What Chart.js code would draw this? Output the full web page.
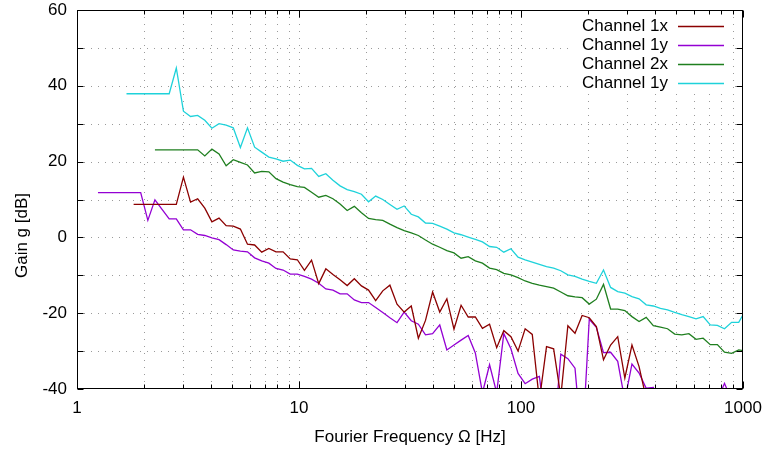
<!DOCTYPE html>
<html>
<head>
<meta charset="utf-8">
<script src="https://cdn.jsdelivr.net/npm/chart.js@4/dist/chart.umd.min.js"></script>
<style>
  html, body { margin: 0; padding: 0; background: #fff; }
  #wrap { width: 765px; height: 450px; }
</style>
</head>
<body>
<div id="wrap"><canvas id="gain" width="765" height="450"></canvas></div>
<script>
// Fourier frequencies of the spectrum bins [Hz]
const freq = [
  1.243, 1.339, 1.441, 1.552, 1.671, 1.799, 1.936, 2.085, 2.244, 2.416, 2.602,
  2.801, 3.016, 3.247, 3.496, 3.764, 4.052, 4.363, 4.697, 5.057, 5.445,
  5.861, 6.311, 6.794, 7.315, 7.876, 8.479, 9.129, 9.829, 10.58, 11.39,
  12.27, 13.21, 14.22, 15.31, 16.48, 17.75, 19.11, 20.57, 22.15, 23.84,
  25.67, 27.64, 29.76, 32.04, 34.49, 37.14, 39.98, 43.05, 46.35, 49.90,
  53.72, 57.84, 62.27, 67.04, 72.18, 77.71, 83.66, 90.08, 96.98, 104.4,
  112.4, 121.0, 130.3, 140.3, 151.1, 162.6, 175.1, 188.5, 203.0, 218.5,
  235.3, 253.3, 272.7, 293.6, 316.1, 340.3, 366.4, 394.5, 424.7, 457.2,
  492.3, 530.0, 570.6, 614.3, 661.4, 712.1, 766.6, 825.4, 888.6, 956.7,
  1030
];

// gain per channel [dB], one value per frequency bin (null = no data)
const gain1x = [
  null, null, null, null, null,
  8.7, 8.7, 8.7, 8.7, 8.7, 8.7, 8.7,
  15.9, 9.3, 10.2, 7.7, 4.1, 5.1, 3.1, 3.0, 2.2, -1.8,
  -2.0, -3.9, -2.9, -3.8, -3.8, -5.7, -5.9, -8.7, -6.0, -12.2,
  -8.3, -9.8, -11.2, -12.7, -10.9, -12.8, -13.9, -16.7, -14.1, -12.6,
  -17.6, -19.7, -18.1, -26.6, -21.9, -14.4, -19.7, -16.2, -24.2, -17.9,
  -21.0, -21.0, -24.0, -22.9, -29.1, -24.6, -26.2, -30.0, -24.1, -25.6,
  -43, -28.8, -29.4, -42, -23.3, -25.3, -20.6, -21.2, -23.5, -32.3,
  -28.4, -26.2, -37.1, -28.4, -34.1, -42.5,
  null, null, null, null, null, null, null, null, null, null, null, null, null, null
];

const gain1y = [
  11.8, 11.8, 11.8, 11.8, 11.8, 11.8, 11.8,
  4.5, 9.9, 7.4, 4.9, 4.9,
  2.0, 2.0, 0.8, 0.5, -0.1, -0.6, -1.9, -3.3, -3.6, -3.8,
  -5.4, -6.2, -6.8, -8.2, -8.6, -9.7, -9.7, -10.3, -11.0, -12.1,
  -13.6, -13.9, -14.9, -14.9, -16.5, -17.2, -17.2, -18.5, -19.8, -21.2,
  -22.5, -19.7, -22.0, -22.9, -25.7, -25.4, -23.1, -29.7, -28.4, -27.1,
  -25.9, -30.5, -41, -33.6, -41, -25.4, -29.4, -35.9, -38.6, -37.4,
  -36.7, -51, -54, -30.8, -32.0, -34.5, -56, -21.6, -23.7, -30.4,
  -30.3, -32.7, -43, -33.4, -35.8, -39.8, -39.6, -45,
  null, null, null, null, null, null, null,
  -43, -38.5, -43,
  null, null
];

const gain2x = [
  null, null, null, null, null, null, null, null,
  23.1, 23.1, 23.1, 23.1, 23.1, 23.1, 23.1,
  21.5, 23.3, 22.0, 18.9, 20.5, 19.8, 19.1,
  17.0, 17.4, 17.3, 15.5, 14.6, 13.9, 13.4, 13.2, 11.9, 10.6,
  11.1, 10.2, 8.8, 7.1, 8.2, 6.5, 5.0, 4.7, 4.5, 3.5,
  2.6, 1.8, 1.2, 0.5, -0.7, -1.8, -2.6, -3.5, -4.1, -5.5,
  -5.1, -6.2, -6.8, -8.1, -8.5, -9.5, -9.9, -10.6, -11.5, -12.1,
  -12.6, -13.0, -13.4, -14.4, -15.4, -15.7, -15.9, -17.6, -16.3, -12.4,
  -18.9, -18.9, -19.3, -20.9, -22.2, -21.1, -23.3, -23.7, -24.1, -25.5,
  -25.7, -25.4, -26.9, -26.6, -28.3, -28.3, -30.3, -30.6, -29.7, -30.0
];

const gain1yB = [
  null, null, null, null,
  37.9, 37.9, 37.9, 37.9, 37.9, 37.9, 37.9,
  44.7, 33.3, 31.9, 32.2, 30.9, 28.8, 30.0, 29.6, 28.9, 23.7, 28.9,
  23.8, 22.5, 21.2, 20.7, 20.1, 20.4, 19.0, 18.1, 18.2, 16.1,
  16.8, 15.1, 13.6, 12.6, 12.1, 11.4, 9.4, 10.9, 10.0, 8.7,
  7.4, 8.3, 6.1, 5.4, 3.8, 3.7, 3.0, 2.2, 1.2, 0.7,
  0.1, -0.5, -1.2, -2.4, -2.6, -3.9, -3.0, -5.2, -5.9, -6.5,
  -7.1, -7.7, -8.1, -8.8, -9.9, -10.3, -11.0, -11.6, -12.1, -8.6,
  -13.2, -14.3, -14.7, -15.6, -16.2, -17.8, -18.1, -18.7, -19.1, -19.8,
  -20.4, -20.9, -21.5, -20.9, -23.1, -23.2, -24.1, -22.4, -22.4, -19.1
];

const seriesNames = ['Channel 1x', 'Channel 1y', 'Channel 2x', 'Channel 1y'];
const seriesColors = ['#8b0000', '#9400d3', '#1f7f1f', '#1ed2da'];

// axis ticks: grid every decade step on x, every 10 dB on y
const xTickValues = [1, 2, 3, 4, 5, 6, 7, 8, 9, 10, 20, 30, 40, 50, 60, 70, 80, 90,
  100, 200, 300, 400, 500, 600, 700, 800, 900, 1000];
const xLabelValues = [1, 10, 100, 1000];
const yTickValues = [-40, -30, -20, -10, 0, 10, 20, 30, 40, 50, 60];
const yLabelValues = [-40, -20, 0, 20, 40, 60];

const FONT = '"Liberation Sans", Arial, sans-serif';
const FONT_SIZE = 17;

const toPoints = vals => freq.map((f, i) => ({ x: f, y: vals[i] }));

// gnuplot-like frame: dotted grid, inward ticks, opaque key, axis labels
const gnuFrame = {
  id: 'gnuFrame',
  beforeDatasetsDraw(chart) {
    const { ctx, chartArea: a, scales: { x, y } } = chart;
    ctx.save();
    ctx.strokeStyle = '#9a9a9a';
    ctx.lineWidth = 1;
    ctx.setLineDash([1, 6]);
    x.ticks.forEach(t => {
      const px = Math.round(x.getPixelForValue(t.value)) + 0.5;
      if (px <= a.left + 2 || px >= a.right - 2) return;
      ctx.beginPath();
      ctx.moveTo(px, a.top);
      ctx.lineTo(px, a.bottom);
      ctx.stroke();
    });
    y.ticks.forEach(t => {
      const py = Math.round(y.getPixelForValue(t.value)) + 0.5;
      if (py <= a.top + 2 || py >= a.bottom - 2) return;
      ctx.beginPath();
      ctx.moveTo(a.left, py);
      ctx.lineTo(a.right, py);
      ctx.stroke();
    });
    ctx.setLineDash([]);

    // key background hides the grid behind it
    ctx.font = FONT_SIZE + 'px ' + FONT;
    const textRight = a.right - 75;
    const maxW = Math.max(...seriesNames.map(n => ctx.measureText(n).width));
    ctx.fillStyle = '#fff';
    ctx.fillRect(textRight - maxW - 8, a.top + 1, a.right - 11 - (textRight - maxW - 8), 83);
    ctx.restore();
  },
  afterDatasetsDraw(chart) {
    const { ctx, chartArea: a, scales: { x, y } } = chart;
    const L = Math.round(a.left) + 0.5, R = Math.round(a.right) - 0.5;
    const T = Math.round(a.top) + 0.5, B = Math.round(a.bottom) - 0.5;
    ctx.save();
    ctx.strokeStyle = '#000';
    ctx.lineWidth = 1;
    ctx.strokeRect(L, T, R - L, B - T);

    ctx.beginPath();
    x.ticks.forEach(t => {
      const px = Math.round(x.getPixelForValue(t.value)) + 0.5;
      const len = xLabelValues.includes(t.value) ? 7 : 4;
      ctx.moveTo(px, B); ctx.lineTo(px, B - len);
      ctx.moveTo(px, T); ctx.lineTo(px, T + len);
    });
    y.ticks.forEach(t => {
      const py = Math.round(y.getPixelForValue(t.value)) + 0.5;
      ctx.moveTo(L, py); ctx.lineTo(L + 6, py);
      ctx.moveTo(R, py); ctx.lineTo(R - 6, py);
    });
    ctx.stroke();

    // key: right-aligned names with line samples on their right
    ctx.font = FONT_SIZE + 'px ' + FONT;
    ctx.fillStyle = '#000';
    ctx.textAlign = 'right';
    ctx.textBaseline = 'middle';
    const textRight = a.right - 75;
    chart.data.datasets.forEach((ds, i) => {
      const ry = Math.round(a.top + 16 + i * 19) + 0.5;
      ctx.fillText(ds.label, textRight, ry);
      ctx.strokeStyle = ds.borderColor;
      ctx.lineWidth = 1.3;
      ctx.beginPath();
      ctx.moveTo(a.right - 65, ry);
      ctx.lineTo(a.right - 19, ry);
      ctx.stroke();
    });

    // axis titles
    ctx.textAlign = 'center';
    ctx.fillText('Fourier Frequency Ω [Hz]', (a.left + a.right) / 2, 437);
    ctx.translate(22, (a.top + a.bottom) / 2 + 36);
    ctx.rotate(-Math.PI / 2);
    ctx.fillText('Gain g [dB]', 0, 0);
    ctx.restore();
  }
};

const ctx = document.getElementById('gain').getContext('2d');
new Chart(ctx, {
  type: 'line',
  data: {
    datasets: [gain1x, gain1y, gain2x, gain1yB].map((vals, i) => ({
      label: seriesNames[i],
      data: toPoints(vals),
      borderColor: seriesColors[i],
      backgroundColor: seriesColors[i],
      borderWidth: 1.3,
      pointRadius: 0,
      tension: 0,
      spanGaps: false,
      fill: false
    }))
  },
  options: {
    responsive: false,
    animation: false,
    events: [],
    layout: { padding: { left: 0, right: 22, top: 10, bottom: 0 } },
    plugins: {
      legend: { display: false },
      tooltip: { enabled: false }
    },
    scales: {
      x: {
        type: 'logarithmic',
        min: 1,
        max: 1000,
        grid: { display: false, drawTicks: false },
        border: { display: false },
        afterBuildTicks: s => { s.ticks = xTickValues.map(v => ({ value: v })); },
        afterFit: s => { s.height = 61; s.paddingLeft = 0; s.paddingRight = 0; },
        ticks: {
          autoSkip: false,
          maxRotation: 0,
          padding: 9,
          color: '#000',
          font: { family: FONT, size: FONT_SIZE },
          callback: v => xLabelValues.includes(v) ? String(v) : ''
        }
      },
      y: {
        type: 'linear',
        min: -40,
        max: 60,
        grid: { display: false, drawTicks: false },
        border: { display: false },
        afterBuildTicks: s => { s.ticks = yTickValues.map(v => ({ value: v })); },
        afterFit: s => { s.width = 77; s.paddingTop = 0; s.paddingBottom = 0; },
        ticks: {
          autoSkip: false,
          padding: 10,
          color: '#000',
          font: { family: FONT, size: FONT_SIZE },
          callback: v => yLabelValues.includes(v) ? String(v) : ''
        }
      }
    }
  },
  plugins: [gnuFrame]
});
</script>
</body>
</html>
